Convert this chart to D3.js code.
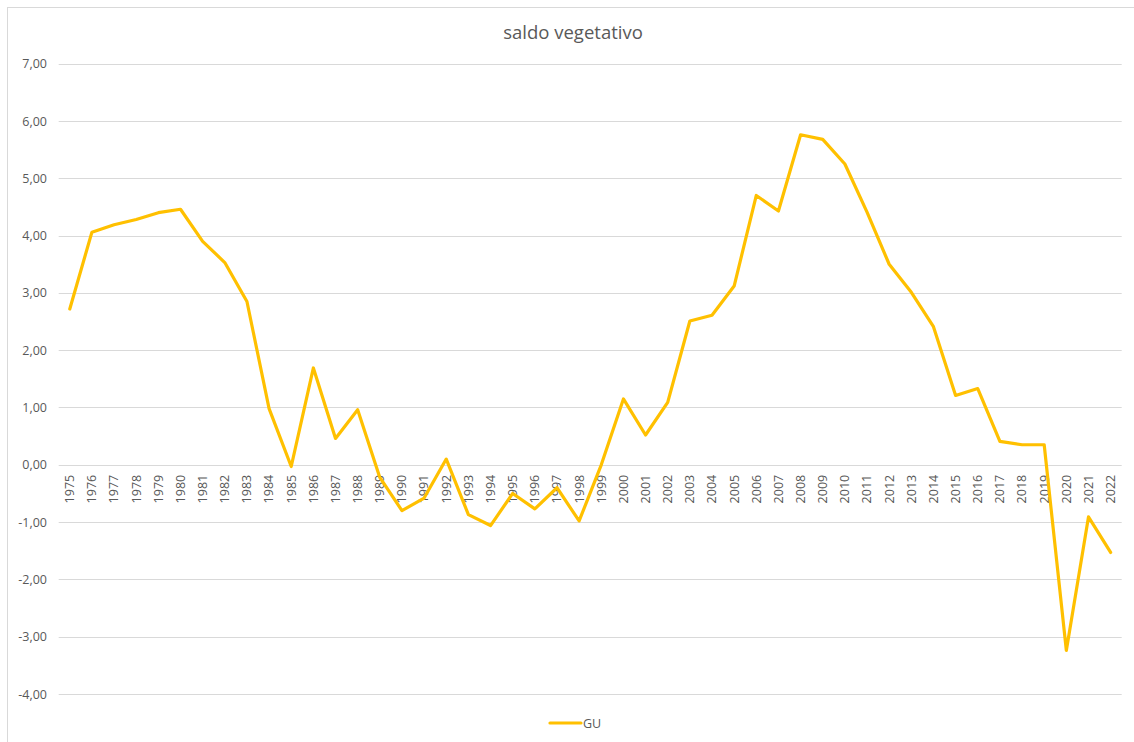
<!DOCTYPE html>
<html>
<head>
<meta charset="utf-8">
<script src="https://cdn.jsdelivr.net/npm/d3@7"></script>
<style>
  html, body { margin: 0; padding: 0; background: #fff; }
  svg { display: block; }
  text { font-family: "Open Sans", "Noto Sans", sans-serif; fill: #595959; }
</style>
</head>
<body>
<svg id="chart" width="1134" height="742"></svg>
<script>
const years = [1975,1976,1977,1978,1979,1980,1981,1982,1983,1984,1985,1986,1987,1988,1989,1990,1991,1992,1993,1994,1995,1996,1997,1998,1999,2000,2001,2002,2003,2004,2005,2006,2007,2008,2009,2010,2011,2012,2013,2014,2015,2016,2017,2018,2019,2020,2021,2022];
const guValues = [2.72,4.06,4.19,4.28,4.40,4.46,3.90,3.53,2.85,0.98,-0.03,1.69,0.46,0.96,-0.22,-0.80,-0.58,0.10,-0.87,-1.06,-0.50,-0.77,-0.40,-0.98,0.00,1.15,0.52,1.09,2.51,2.61,3.12,4.70,4.43,5.76,5.68,5.25,4.41,3.50,3.01,2.41,1.21,1.33,0.41,0.35,0.35,-3.24,-0.91,-1.53];
const yTicks = [7,6,5,4,3,2,1,0,-1,-2,-3,-4];
const seriesName = "GU";
const title = "saldo vegetativo";

const svg = d3.select("#chart");
const color = "#FFC000";

// chart frame
svg.append("rect").attr("x", 7.5).attr("y", 7.5).attr("width", 1140).attr("height", 760)
  .attr("fill", "#fff").attr("stroke", "#d9d9d9").attr("stroke-width", 1);

const x = d3.scaleBand().domain(years).range([58.7, 1121.7]);
const y = d3.scaleLinear().domain([-4, 7]).range([694, 63.7]);
const fmt = d => d3.format(".2f")(d).replace(".", ",").replace("−", "-");

// gridlines
svg.append("g").selectAll("line").data(yTicks).join("line")
  .attr("x1", 58.7).attr("x2", 1121.7)
  .attr("y1", d => Math.round(y(d)) + 0.5).attr("y2", d => Math.round(y(d)) + 0.5)
  .attr("stroke", "#d9d9d9").attr("stroke-width", 1);

// y axis labels
const yAxis = d3.axisLeft(y).tickValues(yTicks).tickFormat(fmt).tickSize(0).tickPadding(0);
const gy = svg.append("g").attr("transform", "translate(47,0)").call(yAxis);
gy.select(".domain").remove();
gy.selectAll("text").attr("font-size", 12.5).attr("fill", "#595959")
  .style("font-family", "'Open Sans', sans-serif");

// x axis labels (rotated) below zero line
const xAxis = d3.axisBottom(x).tickSize(0).tickPadding(0);
const gx = svg.append("g").attr("transform", `translate(0,${y(0)})`).call(xAxis);
gx.select(".domain").remove();
gx.selectAll("text")
  .attr("transform", "rotate(-90)")
  .attr("x", -10).attr("y", 0).attr("dy", "0.35em")
  .attr("text-anchor", "end")
  .attr("font-size", 12.5).attr("fill", "#595959")
  .style("font-family", "'Open Sans', sans-serif");

// line
const line = d3.line().x((d, i) => x(years[i]) + x.bandwidth() / 2).y(d => y(d));
svg.append("path").datum(guValues)
  .attr("d", line).attr("fill", "none").attr("stroke", color)
  .attr("stroke-width", 3.2).attr("stroke-linejoin", "round").attr("stroke-linecap", "round");

// title
svg.append("text").attr("x", 573).attr("y", 39).attr("text-anchor", "middle")
  .attr("font-size", 18.5).text(title);

// legend
svg.append("line").attr("x1", 550).attr("x2", 581).attr("y1", 723).attr("y2", 723)
  .attr("stroke", color).attr("stroke-width", 3.2).attr("stroke-linecap", "round");
svg.append("text").attr("x", 583).attr("y", 727.5).attr("font-size", 12.5).text(seriesName);
</script>
</body>
</html>
